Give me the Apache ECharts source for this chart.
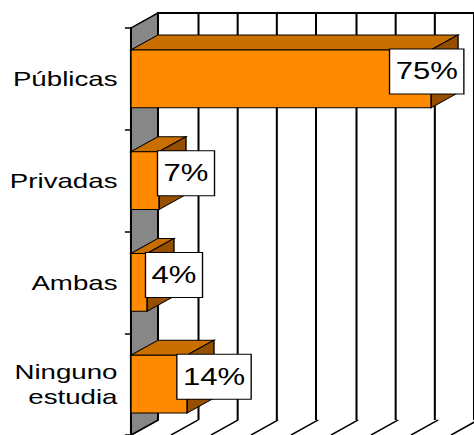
<!DOCTYPE html>
<html>
<head>
<meta charset="utf-8">
<script src="https://cdn.jsdelivr.net/npm/echarts@6/dist/echarts.min.js"></script>
<style>
  html, body { margin: 0; padding: 0; background: #fff; overflow: hidden; }
  /* chart is laid out narrow and widened horizontally, like the original wide-aspect print */
  #chart { width: 351px; height: 435px; transform: scaleX(1.3504); transform-origin: 0 0; }
</style>
</head>
<body>
<div id="chart"></div>
<script>
// Data
const categories = ['Públicas', 'Privadas', 'Ambas', 'Ninguno\nestudia'];
const shares = [75, 7, 4, 14];
const valueTicks = [0, 10, 20, 30, 40, 50, 60, 70, 80];

// 3D look: offset of the back plane relative to the front plane
const DEPTH_X = 20;
const DEPTH_Y = -15;
const FONT = '"Liberation Sans", Arial, sans-serif';
const LABEL_SIZE = 23;

const COLORS = {
  front: '#ff8a00',
  top: '#c96f00',
  side: '#964e00',
  wall: '#878787',
  line: '#000000'
};

const measureCtx = document.createElement('canvas').getContext('2d');
function textWidth(str, size) {
  measureCtx.font = size + 'px ' + FONT;
  return measureCtx.measureText(str).width;
}

const chart = echarts.init(document.getElementById('chart'), null, { renderer: 'svg' });

function renderWall(params, api) {
  const cs = params.coordSys;
  const x0 = cs.x, yTop = cs.y, yBot = cs.y + cs.height;
  return {
    type: 'polygon',
    shape: { points: [
      [x0, yTop], [x0 + DEPTH_X, yTop + DEPTH_Y],
      [x0 + DEPTH_X, yBot + DEPTH_Y], [x0, yBot]
    ] },
    style: { fill: COLORS.wall, stroke: COLORS.line, lineWidth: 1.5 }
  };
}

function renderFloorLine(params, api) {
  const cs = params.coordSys;
  const v = api.value(0);
  const fx = api.coord([v, 0])[0];
  const yBot = cs.y + cs.height;
  return {
    type: 'line',
    shape: { x1: fx + DEPTH_X, y1: yBot + DEPTH_Y, x2: fx, y2: yBot },
    style: { stroke: COLORS.line, lineWidth: 1.5 }
  };
}

function barGeometry(api) {
  const v = api.value(0);
  const cat = api.value(1);
  const start = api.coord([0, cat]);
  const end = api.coord([v, cat]);
  const h = api.size([0, 1])[1] * 0.57;
  return { x0: start[0], x1: end[0], y0: end[1] - h / 2, y1: end[1] + h / 2, cy: end[1], v: v };
}

function renderBar(params, api) {
  const g = barGeometry(api);
  const { x0, x1, y0, y1 } = g;
  const stroke = { stroke: COLORS.line, lineWidth: 1 };
  return {
    type: 'group',
    children: [
      { type: 'polygon',
        shape: { points: [[x0, y0], [x0 + DEPTH_X, y0 + DEPTH_Y], [x1 + DEPTH_X, y0 + DEPTH_Y], [x1, y0]] },
        style: Object.assign({ fill: COLORS.top }, stroke) },
      { type: 'polygon',
        shape: { points: [[x1, y0], [x1 + DEPTH_X, y0 + DEPTH_Y], [x1 + DEPTH_X, y1 + DEPTH_Y], [x1, y1]] },
        style: Object.assign({ fill: COLORS.side }, stroke) },
      { type: 'rect',
        shape: { x: x0, y: y0, width: x1 - x0, height: y1 - y0 },
        style: Object.assign({ fill: COLORS.front }, stroke) }
    ]
  };
}

function renderLabel(params, api) {
  const g = barGeometry(api);
  const text = g.v + '%';
  const padX = 4;
  const halfW = textWidth(text, LABEL_SIZE) / 2 + padX + 1;
  const maxCenter = api.getWidth() - 7 - halfW;
  const cx = Math.min(g.x1 + DEPTH_X, maxCenter);
  const cy = g.cy + DEPTH_Y / 2;
  return {
    type: 'text',
    style: {
      text: text,
      x: cx, y: cy,
      align: 'center', verticalAlign: 'middle',
      font: LABEL_SIZE + 'px ' + FONT,
      fill: '#000',
      lineHeight: 28,
      backgroundColor: '#fff',
      borderColor: '#000',
      borderWidth: 1,
      padding: [8, padX]
    }
  };
}

const barData = shares.map((v, i) => [v, i]);

chart.setOption({
  animation: false,
  backgroundColor: '#fff',
  grid: [
    // front plane: bars and category axis
    { left: 97, top: 28, width: 237, height: 407 },
    // back wall with the vertical gridlines
    { left: 97 + DEPTH_X, top: 28 + DEPTH_Y, width: 237, height: 407 }
  ],
  xAxis: [
    { gridIndex: 0, type: 'value', min: 0, max: 80, interval: 10, show: false },
    { gridIndex: 1, type: 'value', min: 0, max: 80, interval: 10, position: 'top',
      axisLine: { show: true, lineStyle: { color: COLORS.line, width: 2 } },
      axisTick: { show: false }, axisLabel: { show: false },
      splitLine: { show: true, lineStyle: { color: COLORS.line, width: 1.5 } } }
  ],
  yAxis: [
    { gridIndex: 0, type: 'category', data: categories, inverse: true,
      axisLine: { show: true, lineStyle: { color: COLORS.line, width: 1.5 } },
      axisTick: { show: true, length: 4.5, lineStyle: { color: COLORS.line, width: 1.5 } },
      axisLabel: { color: '#000', fontFamily: FONT, fontSize: 20.5, lineHeight: 25, margin: 10 },
      splitLine: { show: false } },
    { gridIndex: 1, type: 'category', data: categories, inverse: true, show: false }
  ],
  series: [
    { type: 'custom', xAxisIndex: 0, yAxisIndex: 0, z: 3, silent: true,
      data: valueTicks.map(v => [v, 0]), renderItem: renderFloorLine },
    { type: 'custom', xAxisIndex: 0, yAxisIndex: 0, z: 4, silent: true,
      data: [[0, 0]], renderItem: renderWall },
    { type: 'custom', xAxisIndex: 0, yAxisIndex: 0, z: 5, silent: true,
      data: barData, renderItem: renderBar },
    { type: 'custom', xAxisIndex: 0, yAxisIndex: 0, z: 6, silent: true,
      data: barData, renderItem: renderLabel }
  ]
});
</script>
</body>
</html>
